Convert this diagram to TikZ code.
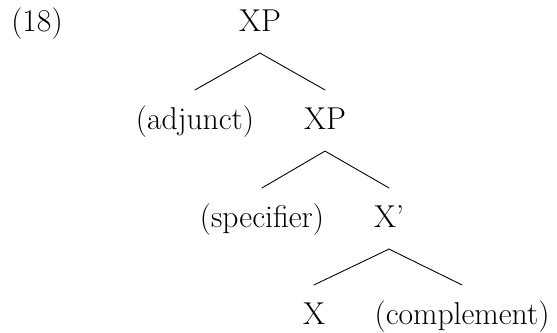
\documentclass[tikz,border=0pt]{standalone}
\begin{document}
\begin{tikzpicture}[x=0.02cm, y=-0.02cm, font=\fontsize{18}{22}\selectfont, line join=round, line cap=round]
\tikzset{lbl/.style={anchor=base, inner sep=0pt},
  branch/.style={line width=0.5pt}}
\useasboundingbox (0,0) rectangle (557,333);
% Số thứ tự ví dụ
\node[lbl] (ex) at (37,32) {(18)};
% Các nút của cây
\node[lbl] (xpA) at (260,32) {XP};
\node[lbl] (adj) at (195,130) {(adjunct)};
\node[lbl] (xpB) at (325,130) {XP};
\node[lbl] (spec) at (262,228) {(specifier)};
\node[lbl] (xbar) at (389,228) {X'};
\node[lbl] (head) at (314,325) {X};
\node[lbl] (comp) at (462,325) {(complement)};
% Vẽ các nhánh
\draw[branch] ([yshift=22.8pt]adj.base) -- ([yshift=-12pt]xpA.base) -- ([yshift=22.8pt]xpB.base);
\draw[branch] ([yshift=22.8pt]spec.base) -- ([yshift=-12pt]xpB.base) -- ([yshift=22.8pt]xbar.base);
\draw[branch] ([yshift=22.8pt]head.base) -- ([yshift=-12pt]xbar.base) -- ([yshift=22.8pt]comp.base);
\end{tikzpicture}
\end{document}
